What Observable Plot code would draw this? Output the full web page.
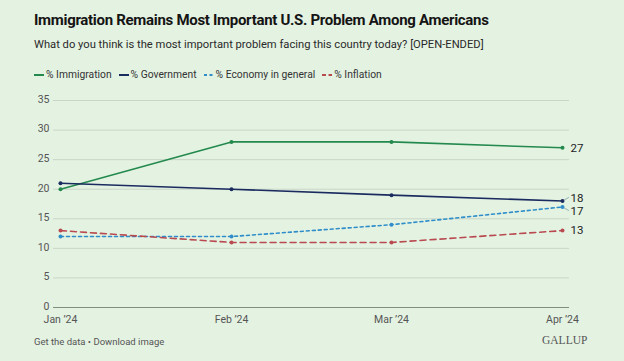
<!DOCTYPE html>
<html>
<head>
<meta charset="utf-8">
<script src="https://cdn.jsdelivr.net/npm/d3@7"></script>
<script src="https://cdn.jsdelivr.net/npm/@observablehq/plot@0.6"></script>
<style>
  html, body { margin: 0; padding: 0; background: #e4f2e2; }
  #wrap { position: relative; width: 624px; height: 361px; background: #e4f2e2; font-family: Roboto, "Noto Sans", sans-serif; overflow: hidden; }
  #title { position: absolute; left: 34px; top: 11px; font-size: 15px; font-weight: 700; color: #141414; letter-spacing: -0.3px; white-space: nowrap; }
  #subtitle { position: absolute; left: 34px; top: 38px; font-size: 11.2px; color: #2a2a2a; white-space: nowrap; }
  #legend { position: absolute; left: 34px; top: 68px; font-size: 10.3px; color: #333; white-space: nowrap; display: flex; align-items: center; }
  #legend .item { display: flex; align-items: center; margin-right: 7px; }
  #legend svg { margin-right: 2px; }
  #chart { position: absolute; left: 0; top: 88px; }
  #footer { position: absolute; left: 34px; top: 336px; font-size: 9.5px; color: #555; white-space: nowrap; }
  #brand { position: absolute; left: 542px; top: 334px; font-size: 11.5px; font-family: "Liberation Serif", "DejaVu Serif", serif; color: #555; }
</style>
</head>
<body>
<div id="wrap">
  <div id="title">Immigration Remains Most Important U.S. Problem Among Americans</div>
  <div id="subtitle">What do you think is the most important problem facing this country today? [OPEN-ENDED]</div>
  <div id="legend"></div>
  <div id="chart"></div>
  <div id="footer">Get the data • Download image</div>
  <div id="brand">GALLUP</div>
</div>
<script>
// Data
const months = ["2024-01-01", "2024-02-01", "2024-03-01", "2024-04-01"];
const monthLabels = ["Jan ’24", "Feb ’24", "Mar ’24", "Apr ’24"];
const seriesNames = ["% Immigration", "% Government", "% Economy in general", "% Inflation"];
const immigration = [20, 28, 28, 27];
const government = [21, 20, 19, 18];
const economy = [12, 12, 14, 17];
const inflation = [13, 11, 11, 13];
const yTicks = [0, 5, 10, 15, 20, 25, 30, 35];

// Styles
const colors = ["#23894d", "#1a2b5f", "#2f8ec9", "#b84a50"];
const dashes = [null, null, "3,3", "6,4"];
const labelDy = [0, -3, 4, 0];
const leaderAngle = [null, 60, 120, null];

const allValues = [immigration, government, economy, inflation];
const dates = months.map(d => new Date(d + "T00:00:00"));
const rows = [];
allValues.forEach((vals, si) => {
  vals.forEach((v, i) => rows.push({series: seriesNames[si], si, date: dates[i], value: v, last: i === vals.length - 1}));
});

// Legend
const legend = document.getElementById("legend");
seriesNames.forEach((name, i) => {
  const item = document.createElement("div");
  item.className = "item";
  item.innerHTML = `<svg width="10" height="4"><line x1="0" x2="10" y1="2" y2="2" stroke="${colors[i]}" stroke-width="2" ${dashes[i] ? `stroke-dasharray="${dashes[i] === "3,3" ? "3,2.5" : "4,2.5"}"` : ""}/></svg><span>${name}</span>`;
  legend.appendChild(item);
});

const marks = [
  Plot.gridY(yTicks.filter(d => d > 0), {stroke: "#c9d6c7", strokeOpacity: 1, strokeWidth: 1}),
  Plot.ruleY([0], {stroke: "#7f8f7d", strokeWidth: 1}),
  Plot.axisY(yTicks, {tickSize: 0, tickPadding: 4, fontSize: 10.5, fill: "#555", label: null, dy: -1}),
  Plot.axisX(dates, {tickSize: 0, tickPadding: 8, fontSize: 10.5, fill: "#555", label: null,
    tickFormat: d => monthLabels[dates.findIndex(x => +x === +d)]})
];
seriesNames.forEach((name, si) => {
  const data = rows.filter(r => r.si === si);
  marks.push(Plot.line(data, {x: "date", y: "value", stroke: colors[si], strokeWidth: 1.6, strokeDasharray: dashes[si] || undefined}));
  marks.push(Plot.dot(data, {x: "date", y: "value", r: 2, fill: colors[si], stroke: null}));
  const lastRow = data.filter(r => r.last);
  marks.push(Plot.text(lastRow, {x: "date", y: "value", text: d => String(d.value), dx: 8, dy: labelDy[si], textAnchor: "start", fontSize: 11.5, fill: "#222"}));
  if (leaderAngle[si] != null) {
    marks.push(Plot.vector(lastRow, {x: "date", y: "value", length: 6, rotate: leaderAngle[si], anchor: "start", stroke: "#8aa", strokeWidth: 0.8,
      shape: {draw(context, l) { context.moveTo(0, -2); context.lineTo(0, -l - 1); }}}));
  }
});

const chart = Plot.plot({
  width: 624,
  height: 245,
  marginTop: 12,
  marginBottom: 26,
  marginLeft: 53,
  marginRight: 55,
  style: {background: "transparent", fontFamily: "Roboto, 'Noto Sans', sans-serif"},
  x: {type: "time", domain: [dates[0], dates[3]], insetLeft: 7, insetRight: 7},
  y: {domain: [0, 35]},
  marks
});
document.getElementById("chart").appendChild(chart);
</script>
</body>
</html>
